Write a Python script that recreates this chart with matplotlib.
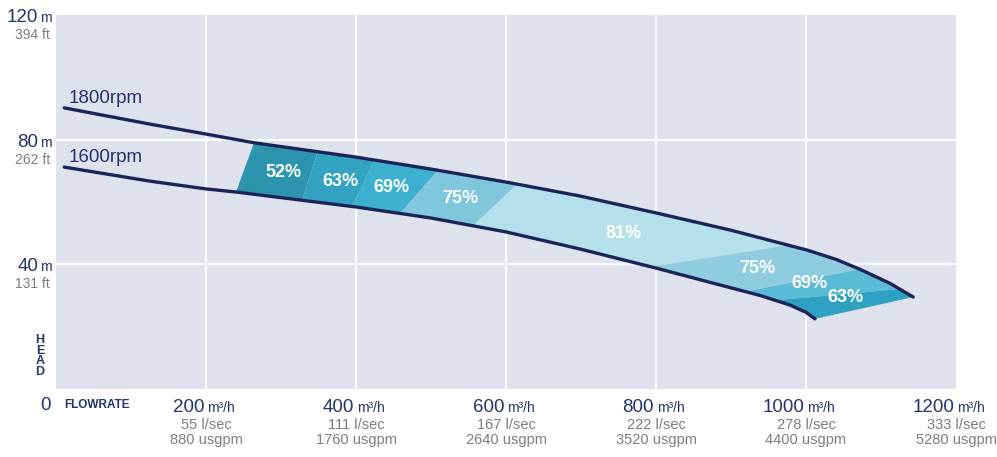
import numpy as np
import matplotlib.pyplot as plt
from matplotlib.patches import Polygon

# Pump curves (flow m3/h, head m)
flow_1800 = [11, 125, 200, 264, 400, 499, 600, 699, 800, 899, 1001, 1040, 1072, 1112, 1143]
head_1800 = [90.2, 85.0, 81.8, 79.0, 74.4, 70.6, 66.4, 61.9, 56.5, 51.0, 44.6, 41.6, 38.4, 33.9, 29.5]
flow_1600 = [11, 125, 200, 240, 400, 499, 600, 699, 800, 885, 939, 979, 1000, 1012]
head_1600 = [71.2, 66.7, 64.2, 63.2, 58.4, 54.9, 50.4, 44.9, 38.8, 33.4, 30.0, 26.9, 24.6, 22.5]

# Efficiency zones: boundary flows on the upper / lower curve
zone_labels = ['52%', '63%', '69%', '75%', '81%', '75%', '69%', '63%']
zone_top = [264, 349, 425, 509, 615, 977, 1072, 1125, 1143]
zone_bot = [240, 328, 395, 459, 556, 793, 919, 959, 1012]
zone_colors = ['#2c94af', '#33a3c2', '#3cb0cf', '#80c6dc', '#b5dfeb',
               '#8ecce0', '#5bbad6', '#2ea1c2']
label_flow = [303, 379, 447, 539, 757, 935, 1004, 1053]
label_head = [69.6, 66.7, 64.5, 61.0, 50.0, 38.8, 34.0, 29.2]

# Axis labels
head_ticks = [120, 80, 40]
head_ft = ['394 ft', '262 ft', '131 ft']
flow_ticks = [200, 400, 600, 800, 1000, 1200]
flow_ls = ['55 l/sec', '111 l/sec', '167 l/sec', '222 l/sec', '278 l/sec', '333 l/sec']
flow_gpm = ['880 usgpm', '1760 usgpm', '2640 usgpm', '3520 usgpm', '4400 usgpm', '5280 usgpm']

navy = '#24336e'
line_col = '#1b2458'
grey = '#7d7d7d'
sans = ['Liberation Sans', 'DejaVu Sans']
plt.rcParams['font.family'] = sans

fig = plt.figure(figsize=(9.97, 4.57), dpi=100)
ax = fig.add_axes([56 / 997, 68 / 457, 900 / 997, 374 / 457])
ax.set_facecolor('#dfe2ec')
ax.set_xlim(0, 1200)
ax.set_ylim(0, 120)
for s in ax.spines.values():
    s.set_visible(False)
ax.set_xticks([])
ax.set_yticks([])

# grid
for x in flow_ticks[:-1]:
    ax.axvline(x, color='white', lw=1.3, zorder=1)
for y in head_ticks[1:]:
    ax.axhline(y, color='white', lw=1.3, zorder=1)


def curve_part(fx, hy, a, b):
    fx = np.array(fx)
    hy = np.array(hy)
    inner = fx[(fx > a) & (fx < b)]
    xs = np.concatenate([[a], inner, [b]])
    return xs, np.interp(xs, fx, hy)


# efficiency zones
for i in range(len(zone_labels)):
    tx, ty = curve_part(flow_1800, head_1800, zone_top[i], zone_top[i + 1])
    bx, by = curve_part(flow_1600, head_1600, zone_bot[i], zone_bot[i + 1])
    pts = list(zip(tx, ty)) + list(zip(bx[::-1], by[::-1]))
    ax.add_patch(Polygon(pts, closed=True, facecolor=zone_colors[i],
                         edgecolor='none', zorder=2))
    ax.text(label_flow[i], label_head[i], zone_labels[i], color='white',
            fontsize=13, fontweight='bold', ha='center', va='center', zorder=4)

ax.plot(flow_1800, head_1800, color=line_col, lw=2.4, zorder=3,
        solid_capstyle='round', solid_joinstyle='round')
ax.plot(flow_1600, head_1600, color=line_col, lw=2.4, zorder=3,
        solid_capstyle='round', solid_joinstyle='round')
ax.annotate('1800rpm', (flow_1800[0], head_1800[0]), xytext=(4, 1),
            textcoords='offset pixels', fontsize=13.5, color=navy, va='bottom')
ax.annotate('1600rpm', (flow_1600[0], head_1600[0]), xytext=(4, 1),
            textcoords='offset pixels', fontsize=13.5, color=navy, va='bottom')

# head labels
for h, ft in zip(head_ticks, head_ft):
    ax.annotate(str(h), (0, h), xytext=(-18, -7), textcoords='offset pixels',
                fontsize=13.5, color=navy, ha='right', va='baseline', annotation_clip=False)
    ax.annotate('m', (0, h), xytext=(-16, -7), textcoords='offset pixels',
                fontsize=10, color=navy, ha='left', va='baseline', annotation_clip=False)
    ax.annotate(ft, (0, h), xytext=(-6, -20), textcoords='offset pixels',
                fontsize=10, color=grey, ha='right', va='center', annotation_clip=False)

ax.annotate('0', (0, 0), xytext=(-5, -21), textcoords='offset pixels',
            fontsize=13.5, color=navy, ha='right', va='baseline', annotation_clip=False)
ax.annotate('H\nE\nA\nD', (0, 0), xytext=(-16, 33), textcoords='offset pixels',
            fontsize=9, fontweight='bold', color=navy, ha='center', va='center',
            linespacing=0.85, annotation_clip=False)
ax.annotate('FLOWRATE', (0, 0), xytext=(8, -16), textcoords='offset pixels',
            fontsize=8.5, fontweight='bold', color=navy, ha='left', va='center',
            annotation_clip=False)

# flow labels
for f, ls, gpm in zip(flow_ticks, flow_ls, flow_gpm):
    ax.annotate(str(f), (f, 0), xytext=(-2, -23), textcoords='offset pixels',
                fontsize=13.5, color=navy, ha='right', va='baseline', annotation_clip=False)
    ax.annotate('m³/h', (f, 0), xytext=(1, -23), textcoords='offset pixels',
                fontsize=10, color=navy, ha='left', va='baseline', annotation_clip=False)
    ax.annotate(ls, (f, 0), xytext=(0, -36), textcoords='offset pixels',
                fontsize=10.5, color=grey, ha='center', va='center', annotation_clip=False)
    ax.annotate(gpm, (f, 0), xytext=(0, -51), textcoords='offset pixels',
                fontsize=10.5, color=grey, ha='center', va='center', annotation_clip=False)

fig.savefig('out.png', dpi=100, facecolor='white')
